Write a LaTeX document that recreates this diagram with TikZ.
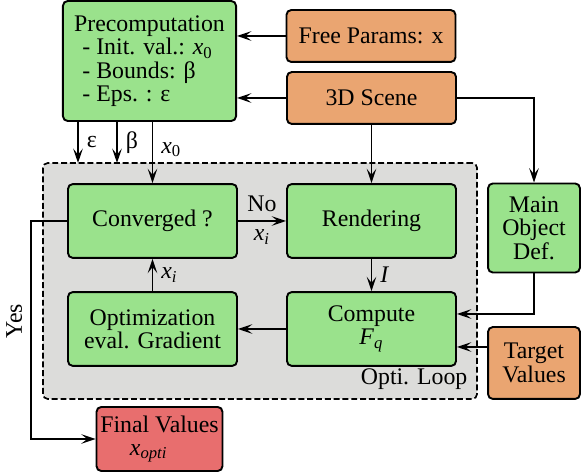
\documentclass[tikz,border=0pt]{standalone}
\usepackage{fontspec}
\setmainfont{Liberation Serif}
\usetikzlibrary{arrows.meta}
\definecolor{boxgreen}{RGB}{154,226,140}
\definecolor{boxorange}{RGB}{234,165,113}
\definecolor{boxred}{RGB}{232,110,110}
\definecolor{loopgrey}{RGB}{220,220,218}
\newcommand{\vsub}[2]{\textit{#1}\textsubscript{#2}}

\begin{document}
\begin{tikzpicture}[x=0.42pt, y=-0.42pt, line width=0.8pt,
  box/.style={draw, rounded corners=2pt, align=center, inner sep=1pt, font=\fontsize{10}{9.8}\selectfont},
  procbox/.style={box, fill=boxgreen, minimum width=71pt, minimum height=31pt},
  inbox/.style={box, fill=boxorange, minimum width=71pt, minimum height=21.8pt},
  outbox/.style={box, fill=boxred},
  loopbox/.style={draw, line width=0.7pt, dash pattern=on 2.5pt off 1.2pt, rounded corners=2pt, fill=loopgrey},
  arr/.style={-{Stealth[length=6pt,width=4pt,inset=2.5pt]}}]
\useasboundingbox (0,0) rectangle (581,475);
\node[loopbox, minimum width=182.3pt, minimum height=99.1pt] (loop) at (260,281) {};
\node[anchor=south east, inner sep=4pt] (looplbl) at (loop.south east) {Opti. Loop};
\node[procbox, minimum width=72.7pt, minimum height=50.4pt, align=left] (pre) at (149.5,61) {Precomputation\\\hspace*{3.5pt}- Init. val.: \vsub{x}{0}\\\hspace*{3.5pt}- Bounds: β\\\hspace*{3.5pt}- Eps. : ε};
\node[inbox] (free) at (371,36) {Free Params: x};
\node[inbox] (scene) at (371.5,98) {3D Scene};
\node[procbox] (conv) at (152.5,221) {Converged ?};
\node[procbox] (rend) at (371.5,221) {Rendering};
\node[procbox] (comp) at (371.5,329) {Compute\\\vsub{F}{\textit{q}}};
\node[procbox] (opt) at (152.5,329) {Optimization\\eval. Gradient};
\node[procbox, minimum width=38.6pt, minimum height=37.4pt] (main) at (534,228) {Main\\Object\\Def.};
\node[inbox, minimum width=38.6pt, minimum height=30.2pt] (targ) at (534,363) {Target\\Values};
\node[outbox, minimum width=52.9pt, minimum height=26.9pt] (fin) at (159.5,439) {Final Values\\\vsub{x}{\textit{opti}}\hspace*{9pt}};
\coordinate (epsin) at (78,163);
\coordinate (betain) at (117,163);
\coordinate (yesturn) at (31,221);
\coordinate (tvout) at (488,347);
\draw[arr] (free.west) -- (free.west -| pre.east);
\draw[arr] (scene.west) -- (scene.west -| pre.east);
\draw[arr] (pre.south -| epsin) -- node[right] {ε} (epsin);
\draw[arr] (pre.south -| betain) -- node[right] {β} (betain);
\draw[arr] (pre.south -| conv.north) -- node[right, pos=0.45] {\vsub{x}{0}} (conv.north);
\draw[arr] (scene) -- (rend);
\draw[arr] (scene.east) -| (main.north);
\draw[arr] (conv) -- node[above] {No} node[below] {\vsub{x}{\textit{i}}} (rend);
\draw[arr] (rend) -- node[right] {\textit{I}} (comp);
\draw[arr] (comp) -- (opt);
\draw[arr] (opt) -- node[right] {\vsub{x}{\textit{i}}} (conv);
\draw[arr] (main.south) |- ([yshift=6.3pt]comp.east);
\draw[arr] (tvout) -- (tvout -| comp.east);
\draw[arr] (conv.west) -- (yesturn) |- node[pos=0.23, rotate=90, above] {Yes} (fin.west);
\end{tikzpicture}
\end{document}
